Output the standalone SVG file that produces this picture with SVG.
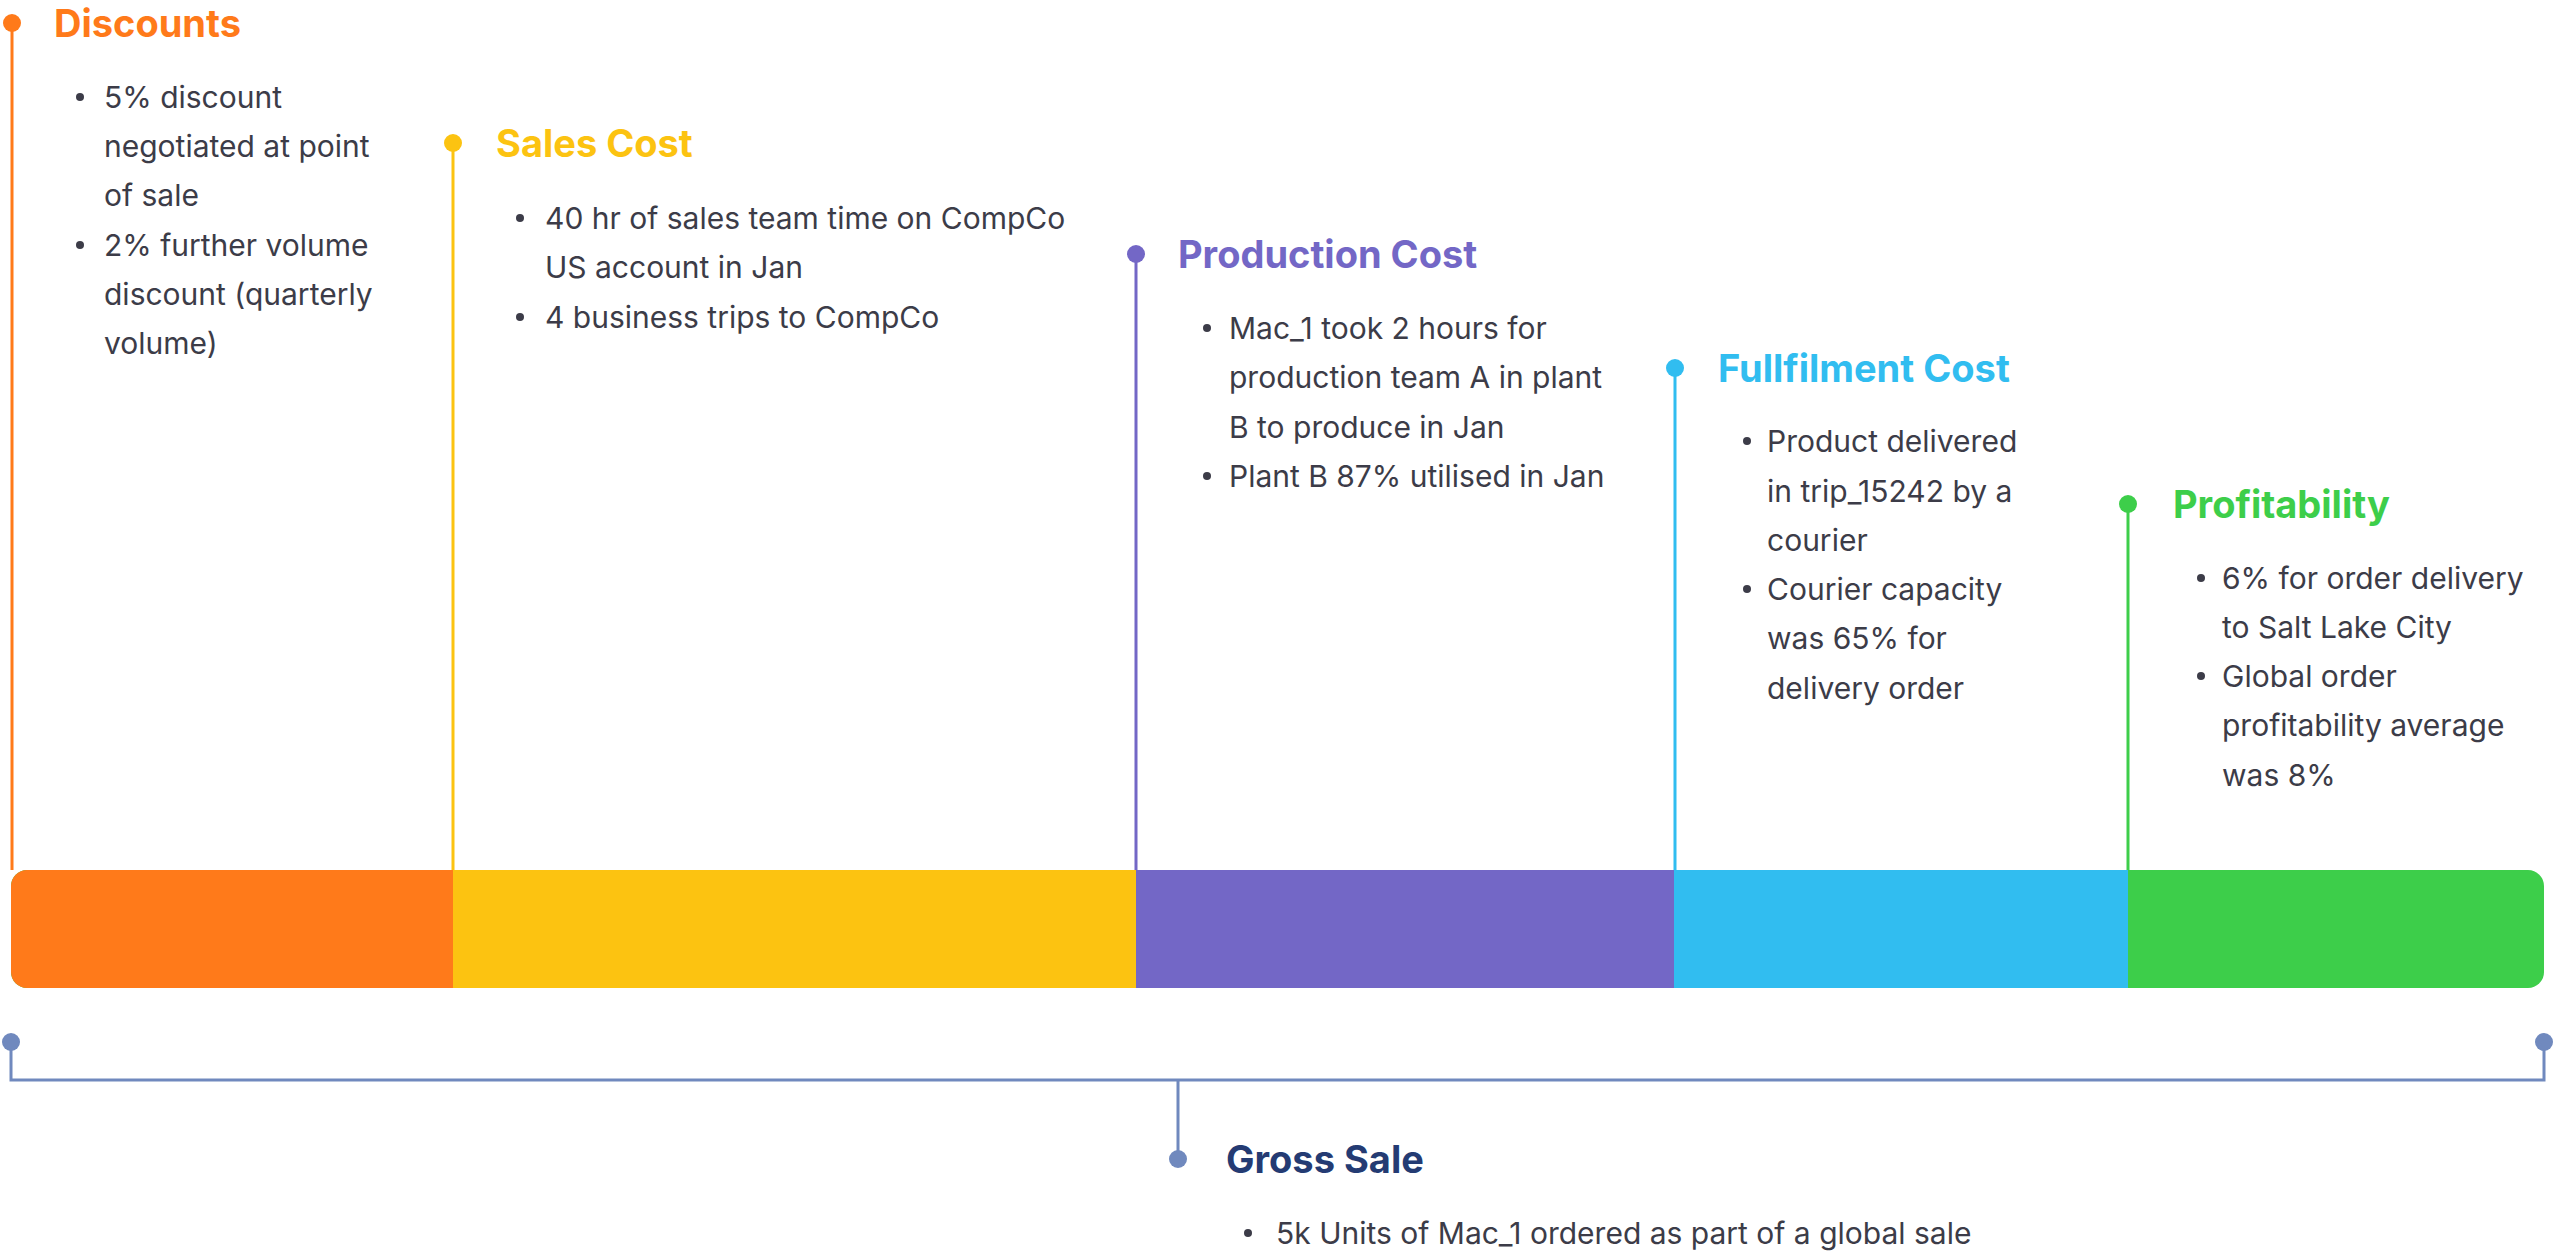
<svg xmlns="http://www.w3.org/2000/svg" width="2560" height="1256" viewBox="0 0 2560 1256">
<style>
.t{font-family:Inter,"Liberation Sans",sans-serif;font-weight:700;font-size:38px}
.b{font-family:Inter,"Liberation Sans",sans-serif;font-size:30px;fill:#3c3c48}
.bd{fill:#3c3c48}
</style>
<rect width="2560" height="1256" fill="#fff"/>
<g id="bar">
<path d="M27 870 H2528 a16 16 0 0 1 16 16 V972 a16 16 0 0 1 -16 16 H27 a16 16 0 0 1 -16 -16 V886 a16 16 0 0 1 16 -16Z" fill="#3dce4a"/>
<path d="M27 870 H453 V988 H27 a16 16 0 0 1 -16 -16 V886 a16 16 0 0 1 16 -16Z" fill="#ff7a1a"/>
<rect x="453" y="870" width="683" height="118" fill="#fcc311"/>
<rect x="1136" y="870" width="538" height="118" fill="#7367c6"/>
<rect x="1674" y="870" width="454" height="118" fill="#31bdf0"/>
</g>
<g id="connectors" stroke-width="3" fill="none">
<line x1="12" y1="23" x2="12" y2="870" stroke="#ff7a1a"/>
<line x1="453" y1="143" x2="453" y2="870" stroke="#fcc311"/>
<line x1="1136" y1="254" x2="1136" y2="870" stroke="#7367c6"/>
<line x1="1675" y1="368" x2="1675" y2="870" stroke="#31bdf0"/>
<line x1="2128" y1="504" x2="2128" y2="870" stroke="#3dce4a"/>
<path d="M11 1042 V1080 H2544 V1042 M1178 1080 V1159" stroke="#7089be"/>
</g>
<g id="discounts">
<circle cx="12" cy="23" r="9" fill="#ff7a1a"/>
<text class="t" x="54" y="37" fill="#ff7a1a">Discounts</text>
<circle class="bd" cx="80" cy="97" r="4"/><circle class="bd" cx="80" cy="245" r="4"/>
<text class="b" x="104" y="108">5% discount</text>
<text class="b" x="104" y="157">negotiated at point</text>
<text class="b" x="104" y="206">of sale</text>
<text class="b" x="104" y="256">2% further volume</text>
<text class="b" x="104" y="305">discount (quarterly</text>
<text class="b" x="104" y="354">volume)</text>
</g>
<g id="sales">
<circle cx="453" cy="143" r="9" fill="#fcc311"/>
<text class="t" x="496" y="157" fill="#fcc311">Sales Cost</text>
<circle class="bd" cx="520" cy="218" r="4"/><circle class="bd" cx="520" cy="317" r="4"/>
<text class="b" x="545" y="229">40 hr of sales team time on CompCo</text>
<text class="b" x="545" y="278">US account in Jan</text>
<text class="b" x="545" y="328">4 business trips to CompCo</text>
</g>
<g id="production">
<circle cx="1136" cy="254" r="9" fill="#7367c6"/>
<text class="t" x="1178" y="268" fill="#7367c6">Production Cost</text>
<circle class="bd" cx="1207" cy="328" r="4"/><circle class="bd" cx="1207" cy="476" r="4"/>
<text class="b" x="1229" y="339">Mac_1 took 2 hours for</text>
<text class="b" x="1229" y="388">production team A in plant</text>
<text class="b" x="1229" y="438">B to produce in Jan</text>
<text class="b" x="1229" y="487">Plant B 87% utilised in Jan</text>
</g>
<g id="fulfilment">
<circle cx="1675" cy="368" r="9" fill="#31bdf0"/>
<text class="t" x="1718" y="382" fill="#31bdf0">Fullfilment Cost</text>
<circle class="bd" cx="1747" cy="441" r="4"/><circle class="bd" cx="1747" cy="589" r="4"/>
<text class="b" x="1767" y="452">Product delivered</text>
<text class="b" x="1767" y="502">in trip_15242 by a</text>
<text class="b" x="1767" y="551">courier</text>
<text class="b" x="1767" y="600">Courier capacity</text>
<text class="b" x="1767" y="649">was 65% for</text>
<text class="b" x="1767" y="699">delivery order</text>
</g>
<g id="profitability">
<circle cx="2128" cy="504" r="9" fill="#3dce4a"/>
<text class="t" x="2173" y="518" fill="#3dce4a">Profitability</text>
<circle class="bd" cx="2201" cy="578" r="4"/><circle class="bd" cx="2201" cy="676" r="4"/>
<text class="b" x="2222" y="589">6% for order delivery</text>
<text class="b" x="2222" y="638">to Salt Lake City</text>
<text class="b" x="2222" y="687">Global order</text>
<text class="b" x="2222" y="736">profitability average</text>
<text class="b" x="2222" y="786">was 8%</text>
</g>
<g id="gross">
<circle cx="11" cy="1042" r="9" fill="#7089be"/>
<circle cx="2544" cy="1042" r="9" fill="#7089be"/>
<circle cx="1178" cy="1159" r="9" fill="#7089be"/>
<text class="t" x="1226" y="1173" fill="#243b73">Gross Sale</text>
<circle class="bd" cx="1248" cy="1233" r="4"/>
<text class="b" x="1276" y="1244">5k Units of Mac_1 ordered as part of a global sale</text>
</g>
</svg>
